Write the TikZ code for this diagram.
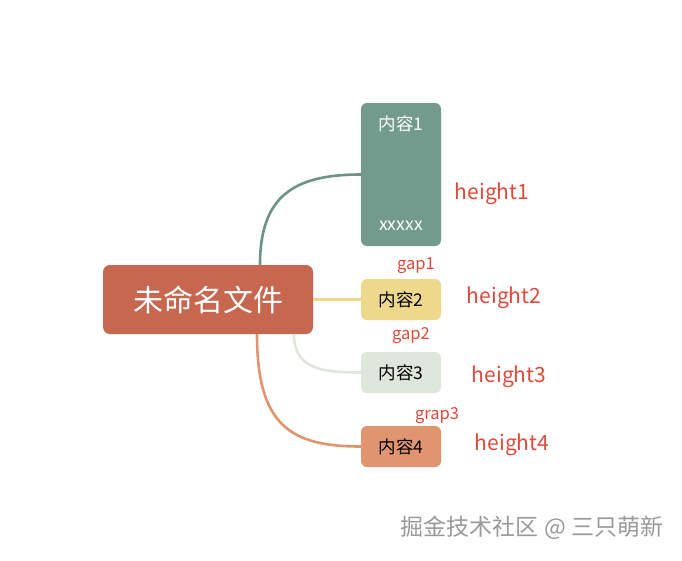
\documentclass[tikz,border=0pt]{standalone}
\usepackage{fontspec}
\setmainfont{Noto Sans CJK SC}
\definecolor{rootred}{HTML}{C8674F}
\definecolor{tealbox}{HTML}{739B8D}
\definecolor{yellowbox}{HTML}{EED88C}
\definecolor{greybox}{HTML}{DFE7DA}
\definecolor{orangebox}{HTML}{E1956F}
\definecolor{labelred}{HTML}{E0493A}
\tikzset{
    topic/.style={rounded corners=6pt, minimum width=80pt, inner sep=0pt, font=\fontsize{17.5}{20}\selectfont},
    branch/.style={line width=2.6pt},
    sizelabel/.style={text=labelred, font=\fontsize{21}{24}\selectfont},
    gaplabel/.style={text=labelred, font=\fontsize{16.5}{19}\selectfont}
}
\begin{document}
\begin{tikzpicture}[x=1pt,y=-1pt]
    % Frame
    \useasboundingbox (0,0) rectangle (682,560);

    % Central topic
    \node[fill=rootred, rounded corners=7pt, minimum width=210pt, minimum height=69pt, text=white,
          font=\fontsize{30}{34}\selectfont] (root) at (208,299.5) {未命名文件};

    % Sub topics
    \node[topic, fill=tealbox, minimum height=143pt] (box1) at (401,174.5) {};
    \node[text=white, font=\fontsize{17.5}{20}\selectfont] (title1) at ([yshift=-21pt]box1.north) {内容1};
    \node[text=white, font=\fontsize{17.5}{20}\selectfont] (foot1) at ([yshift=20pt]box1.south) {xxxxx};
    \node[topic, fill=yellowbox, minimum height=41pt] (box2) at (401,299.5) {内容2};
    \node[topic, fill=greybox, minimum height=41pt] (box3) at (401,372.5) {内容3};
    \node[topic, fill=orangebox, minimum height=41pt] (box4) at (401,446.5) {内容4};

    % Branches
    \draw[branch, tealbox!95!black] ([xshift=52pt]root.north) .. controls (260,195) and (295,174.5) .. (box1.west);
    \draw[branch, yellowbox] (root.east) -- (box2.west);
    \draw[branch, greybox] ([xshift=86pt]root.south) .. controls (294,368) and (320,372.5) .. (box3.west);
    \draw[branch, orangebox] ([xshift=49pt]root.south) .. controls (257,425) and (290,446.5) .. (box4.west);

    % Heights
    \node[sizelabel] (h1) at (492,194) {height1};
    \node[sizelabel] (h2) at (504,298) {height2};
    \node[sizelabel] (h3) at (509,377) {height3};
    \node[sizelabel] (h4) at (512,445) {height4};

    % Gaps
    \node[gaplabel] (g1) at (416,266) {gap1};
    \node[gaplabel] (g2) at (411,336) {gap2};
    \node[gaplabel] (g3) at (437,416) {grap3};

    % Watermark
    \node[text=gray!80, font=\fontsize{23}{26}\selectfont] (mark) at (532,528) {掘金技术社区 @ 三只萌新};
\end{tikzpicture}
\end{document}
